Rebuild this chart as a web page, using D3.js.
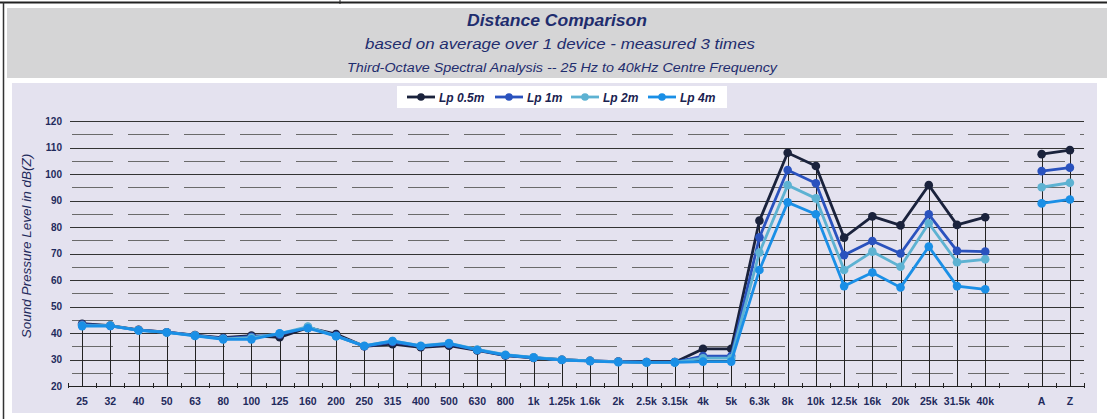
<!DOCTYPE html>
<html>
<head>
<meta charset="utf-8">
<title>Distance Comparison</title>
<script src="https://d3js.org/d3.v7.min.js"></script>
<style>
	body {
		margin: 0;
		background: #fff;
		font-family: "Liberation Sans", Arial, sans-serif;
	}

	.grid-major {
		stroke: #333;
		stroke-width: 1px;
	}

	.grid-minor {
		stroke: #6a6a6a;
		stroke-width: 1px;
		stroke-dasharray: 41, 15;
	}

	.drop {
		stroke: #222;
		stroke-width: 1px;
	}

	.series path {
		fill: none;
		stroke-width: 2.8px;
	}
</style>
</head>
<body>
<script>
	var width = 1107,
			height = 419;

	// third-octave centre frequencies, a blank gap, then the A / Z totals
	var categories = ["25", "32", "40", "50", "63", "80", "100", "125", "160", "200",
		"250", "315", "400", "500", "630", "800", "1k", "1.25k", "1.6k", "2k",
		"2.5k", "3.15k", "4k", "5k", "6.3k", "8k", "10k", "12.5k", "16k", "20k",
		"25k", "31.5k", "40k", "", "A", "Z"];

	var lp05 = [43.5, 42.8, 41.2, 40.3, 39.2, 38.2, 39.0, 38.4, 42.0, 39.6,
		35.0, 35.8, 34.6, 35.2, 33.4, 31.5, 30.6, 29.9, 29.5, 29.2,
		29.0, 29.0, 34.0, 34.0, 82.4, 108.0, 103.0, 76.0, 84.0, 80.6,
		95.8, 80.8, 83.7, null, 107.5, 109.0];
	var lp1 = [43.2, 42.7, 41.1, 40.3, 39.1, 38.0, 38.6, 39.4, 42.2, 39.0,
		35.0, 36.6, 35.0, 35.8, 33.6, 31.6, 30.7, 29.9, 29.5, 29.2,
		29.0, 29.0, 31.3, 31.3, 76.1, 101.5, 96.5, 69.4, 74.7, 70.0,
		84.8, 71.0, 70.7, null, 101.1, 102.4];
	var lp2 = [42.8, 42.8, 41.0, 40.2, 39.0, 37.8, 38.2, 39.8, 42.4, 38.8,
		35.2, 37.0, 35.2, 36.2, 33.8, 31.8, 30.8, 29.9, 29.5, 29.1,
		28.9, 28.9, 30.5, 30.5, 70.4, 95.8, 90.8, 63.8, 70.7, 65.0,
		81.4, 66.7, 67.8, null, 95.0, 96.7];
	var lp4 = [42.6, 42.7, 41.0, 40.2, 38.9, 37.6, 37.6, 39.9, 41.8, 38.8,
		35.1, 37.0, 35.1, 36.1, 33.6, 31.7, 30.7, 29.8, 29.4, 29.0,
		28.9, 28.9, 29.2, 29.2, 63.8, 89.3, 84.8, 57.7, 62.8, 57.2,
		72.6, 57.7, 56.5, null, 88.9, 90.4];

	var seriesNames = ["Lp 0.5m", "Lp 1m", "Lp 2m", "Lp 4m"];
	var seriesColors = ["#1a223c", "#2a52be", "#5db2d2", "#1a8fe6"];
	var yTicks = [20, 30, 40, 50, 60, 70, 80, 90, 100, 110, 120];

	var series = [lp05, lp1, lp2, lp4].map(function(values, i) {
		return {
			name: seriesNames[i],
			color: seriesColors[i],
			values: values.map(function(v, j) { return { cat: categories[j], value: v }; })
		};
	});

	var svg = d3.select("body").append("svg")
			.attr("width", width)
			.attr("height", height);

	////////////////////////////////////////////////////////////
	// Frame, title band and plot background
	svg.append("line")
			.attr("x1", 0).attr("x2", width)
			.attr("y1", 2.5).attr("y2", 2.5)
			.attr("stroke", "#222").attr("stroke-width", 2);
	svg.append("line")
			.attr("x1", 340).attr("x2", 340)
			.attr("y1", 0).attr("y2", 4)
			.attr("stroke", "#222");
	svg.append("rect")
			.attr("x", 7).attr("y", 8)
			.attr("width", width - 7).attr("height", 70)
			.attr("fill", "#d5d5d6");
	svg.append("rect")
			.attr("x", 12).attr("y", 83)
			.attr("width", 1085).attr("height", 330)
			.attr("fill", "#e4e2ef");
	svg.append("line")
			.attr("x1", 3.5).attr("x2", 3.5)
			.attr("y1", 2).attr("y2", height)
			.attr("stroke", "#333").attr("stroke-width", 1.5);

	var titleColor = "#1f2d6e";
	svg.append("text")
			.attr("x", 557).attr("y", 26)
			.attr("text-anchor", "middle")
			.attr("textLength", 180).attr("lengthAdjust", "spacingAndGlyphs")
			.style("font-size", "16px").style("font-weight", "bold").style("font-style", "italic")
			.attr("fill", titleColor)
			.text("Distance Comparison");
	svg.append("text")
			.attr("x", 560).attr("y", 49)
			.attr("text-anchor", "middle")
			.attr("textLength", 390).attr("lengthAdjust", "spacingAndGlyphs")
			.style("font-size", "15.5px").style("font-style", "italic")
			.attr("fill", titleColor)
			.text("based on average over 1 device - measured 3 times");
	svg.append("text")
			.attr("x", 562).attr("y", 72)
			.attr("text-anchor", "middle")
			.attr("textLength", 430).attr("lengthAdjust", "spacingAndGlyphs")
			.style("font-size", "12.5px").style("font-style", "italic")
			.attr("fill", titleColor)
			.text("Third-Octave Spectral Analysis  --  25 Hz to 40kHz Centre Frequency");

	////////////////////////////////////////////////////////////
	// Scales
	var x = d3.scaleBand()
			.domain(categories)
			.range([68, 1084]);

	var y = d3.scaleLinear()
			.domain([20, 120])
			.range([386, 121]);

	var cx = function(c) { return x(c) + x.bandwidth() / 2; };

	////////////////////////////////////////////////////////////
	// Grid
	var grid = svg.append("g");
	var minorTicks = d3.range(25, 120, 10);
	grid.selectAll(".grid-minor")
			.data(minorTicks)
		.enter().append("line")
			.attr("class", "grid-minor")
			.attr("x1", 72).attr("x2", 1084)
			.attr("y1", function(d) { return Math.round(y(d)) + 0.5; })
			.attr("y2", function(d) { return Math.round(y(d)) + 0.5; });
	grid.selectAll(".grid-major")
			.data(yTicks.slice(1))
		.enter().append("line")
			.attr("class", "grid-major")
			.attr("x1", 70).attr("x2", 1084)
			.attr("y1", function(d) { return Math.round(y(d)) + 0.5; })
			.attr("y2", function(d) { return Math.round(y(d)) + 0.5; });

	// drop lines from the highest point to the axis
	var drops = categories.map(function(c, j) {
		var vals = [lp05[j], lp1[j], lp2[j], lp4[j]].filter(function(v) { return v !== null; });
		return { cat: c, top: vals.length ? d3.max(vals) : null };
	}).filter(function(d) { return d.top !== null; });

	svg.append("g").selectAll("line")
			.data(drops)
		.enter().append("line")
			.attr("class", "drop")
			.attr("x1", function(d) { return Math.round(cx(d.cat)) + 0.5; })
			.attr("x2", function(d) { return Math.round(cx(d.cat)) + 0.5; })
			.attr("y1", function(d) { return y(d.top); })
			.attr("y2", y(20));

	////////////////////////////////////////////////////////////
	// Axes
	var xAxis = svg.append("g");
	xAxis.append("line")
			.attr("x1", 68).attr("x2", 1084)
			.attr("y1", Math.round(y(20)) + 0.5).attr("y2", Math.round(y(20)) + 0.5)
			.attr("stroke", "#222");
	xAxis.selectAll(".tick")
			.data(categories.map(function(c) { return x(c); }).concat([x.range()[1]]))
		.enter().append("line")
			.attr("x1", function(d) { return Math.round(d) + 0.5; })
			.attr("x2", function(d) { return Math.round(d) + 0.5; })
			.attr("y1", y(20) - 3).attr("y2", y(20) + 2)
			.attr("stroke", "#222");
	xAxis.selectAll("text")
			.data(categories)
		.enter().append("text")
			.attr("x", function(d) { return cx(d); })
			.attr("y", 405)
			.attr("text-anchor", "middle")
			.style("font-size", "10.5px").style("font-weight", "bold")
			.attr("fill", "#1f2a5c")
			.text(function(d) { return d; });

	svg.append("g").selectAll("text")
			.data(yTicks)
		.enter().append("text")
			.attr("x", 62)
			.attr("y", function(d) { return y(d) + 3.5; })
			.attr("text-anchor", "end")
			.style("font-size", "10px").style("font-weight", "bold")
			.attr("fill", "#1f2a5c")
			.text(function(d) { return d; });

	svg.append("text")
			.attr("transform", "translate(31,246) rotate(-90)")
			.attr("text-anchor", "middle")
			.style("font-size", "13.5px").style("font-style", "italic")
			.attr("fill", "#1f2a5c")
			.text("Sound Pressure Level in dB(Z)");

	////////////////////////////////////////////////////////////
	// Series
	var line = d3.line()
			.defined(function(d) { return d.value !== null; })
			.x(function(d) { return cx(d.cat); })
			.y(function(d) { return y(d.value); });

	var g = svg.selectAll(".series")
			.data(series)
		.enter().append("g")
			.attr("class", "series");

	g.append("path")
			.attr("stroke", function(d) { return d.color; })
			.attr("d", function(d) { return line(d.values); });

	g.selectAll("circle")
			.data(function(d) {
				return d.values.filter(function(v) { return v.value !== null; })
					.map(function(v) { return { cat: v.cat, value: v.value, color: d.color }; });
			})
		.enter().append("circle")
			.attr("cx", function(d) { return cx(d.cat); })
			.attr("cy", function(d) { return y(d.value); })
			.attr("r", 4.3)
			.attr("fill", function(d) { return d.color; });

	////////////////////////////////////////////////////////////
	// Legend
	var legendX = [407, 495, 571, 648];
	var legend = svg.append("g");
	legend.append("rect")
			.attr("x", 397).attr("y", 86)
			.attr("width", 330).attr("height", 22)
			.attr("fill", "#fff");
	var item = legend.selectAll(".item")
			.data(series)
		.enter().append("g")
			.attr("transform", function(d, i) { return "translate(" + legendX[i] + ",97)"; });
	item.append("line")
			.attr("x1", 0).attr("x2", 28)
			.attr("stroke", function(d) { return d.color; })
			.attr("stroke-width", 2.8);
	item.append("circle")
			.attr("cx", 14).attr("r", 3.8)
			.attr("fill", function(d) { return d.color; });
	item.append("text")
			.attr("x", 32).attr("y", 4.5)
			.style("font-size", "12px").style("font-weight", "bold").style("font-style", "italic")
			.attr("fill", "#1a2250")
			.text(function(d) { return d.name; });
</script>
</body>
</html>
